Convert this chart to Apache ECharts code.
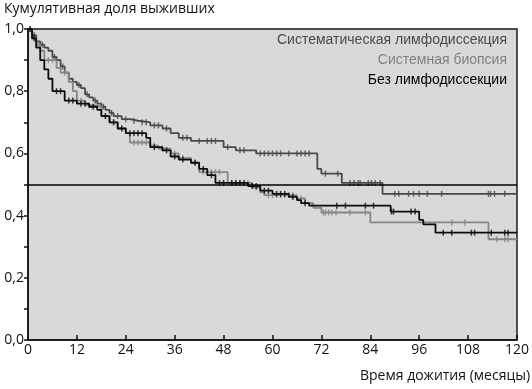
<!DOCTYPE html>
<html>
<head>
<meta charset="utf-8">
<script src="https://cdn.jsdelivr.net/npm/echarts@6/dist/echarts.min.js"></script>
<style>
  html, body { margin: 0; padding: 0; background: #fff; }
  #chart { width: 532px; height: 389px; }
</style>
</head>
<body>
<div id="chart"></div>
<script>
// series names (legend order)
var names = ['Систематическая лимфодиссекция', 'Системная биопсия', 'Без лимфодиссекции']

// Систематическая лимфодиссекция: event times (months) and survival after each step
var sysTimes = [0, 1, 2, 3, 4, 5, 6, 7, 8, 9, 10, 11, 12, 13, 14, 15, 16, 17, 18, 19, 20, 21, 23, 25, 27, 30, 33, 35, 37, 40, 48, 51, 56, 71, 72, 77, 87, 120]
var sysSurv = [1.0, 0.98, 0.96, 0.95, 0.94, 0.93, 0.91, 0.90, 0.88, 0.86, 0.84, 0.83, 0.82, 0.81, 0.79, 0.78, 0.77, 0.76, 0.75, 0.74, 0.73, 0.72, 0.71, 0.705, 0.70, 0.69, 0.68, 0.665, 0.65, 0.64, 0.62, 0.61, 0.60, 0.55, 0.535, 0.505, 0.47, 0.47]
var sysCensor = [1.5, 3.5, 6.5, 8.5, 12.5, 14.5, 16.5, 18.5, 20.5, 22, 24, 26, 28, 29, 31, 32, 34, 38, 39, 42, 44, 45, 46, 49, 52, 53, 57, 58, 59, 60, 61, 62, 64, 66, 67, 68, 69, 73, 76, 79, 80, 81, 81.5, 83.5, 84.3, 85.2, 86.4, 90, 91, 93.4, 94.6, 96, 98, 101.5, 113, 113.5, 114.5, 117]

// Системная биопсия
var bioTimes = [0, 1, 2, 3, 4, 7, 8, 10, 11, 12, 14, 16, 18, 20, 22, 24, 25, 30, 32, 35, 37, 40, 42, 49, 55, 57, 58, 66, 68, 70, 72, 84, 113, 120]
var bioSurv = [1.0, 0.97, 0.95, 0.93, 0.90, 0.875, 0.86, 0.83, 0.80, 0.77, 0.755, 0.75, 0.72, 0.70, 0.68, 0.665, 0.635, 0.625, 0.615, 0.60, 0.585, 0.57, 0.54, 0.505, 0.49, 0.475, 0.466, 0.455, 0.44, 0.425, 0.41, 0.378, 0.324, 0.324]
var bioCensor = [0.5, 2.5, 5, 6, 9, 13, 15, 17, 19, 21, 23, 26, 27, 28, 29, 31, 33, 36, 38, 41, 43, 45, 46, 47, 50, 51, 52, 54, 56, 59, 60, 61, 62, 63, 64, 65, 67, 72.5, 73, 73.8, 74.6, 75.6, 79, 82.8, 104, 107.2, 115, 117, 117.8]

// Без лимфодиссекции
var noTimes = [0, 1, 2, 3, 4, 5, 6, 9, 12, 15, 17, 18, 20, 22, 24, 29, 30, 33, 35, 37, 40, 42, 44, 46, 54, 57, 60, 64, 66, 67, 69, 89, 96, 97, 100, 120]
var noSurv = [1.0, 0.97, 0.94, 0.90, 0.87, 0.84, 0.80, 0.77, 0.76, 0.75, 0.74, 0.72, 0.70, 0.68, 0.665, 0.65, 0.62, 0.61, 0.59, 0.58, 0.57, 0.55, 0.53, 0.505, 0.495, 0.48, 0.47, 0.46, 0.45, 0.44, 0.432, 0.413, 0.386, 0.372, 0.345, 0.345]
var noCensor = [0.5, 1.5, 7, 8, 10, 11, 13, 14, 16, 19, 21, 23, 25, 26, 27, 28, 31, 34, 36, 38, 41, 43, 45, 47, 48, 50, 51, 52, 53, 55, 56, 58, 59, 61, 62, 63, 65, 68, 75.8, 77.9, 82.8, 84.8, 89.2, 89.7, 94, 95, 101.9, 104, 108.8, 109.6, 113.7, 117, 117.8]

var colors = ['#4a4a4a', '#858585', '#0c0c0c']
var textColors = ['#4a4a4a', '#808080', '#000000']

// x ticks / y ticks
var xMax = 120, xStep = 12
var yMax = 1, yStep = 0.2
var refLine = 0.5

function zip(ts, vs) {
  return ts.map(function (t, i) { return [t, vs[i]] })
}
// Kaplan-Meier value at time t (last step at or before t)
function kmAt(ts, vs, t) {
  var v = vs[0]
  for (var i = 0; i < ts.length; i++) {
    if (ts[i] <= t) v = vs[i]
  }
  return v
}
function censorPts(cs, ts, vs) {
  return cs.map(function (t) { return [t, kmAt(ts, vs, t)] })
}

var groups = [
  { times: sysTimes, surv: sysSurv, censor: sysCensor },
  { times: bioTimes, surv: bioSurv, censor: bioCensor },
  { times: noTimes, surv: noSurv, censor: noCensor }
]

var series = []
groups.forEach(function (g, i) {
  series.push({
    name: names[i],
    type: 'line',
    step: 'end',
    symbol: 'none',
    z: 3 + i,
    lineStyle: { color: colors[i], width: 1.8 },
    itemStyle: { color: colors[i] },
    data: zip(g.times, g.surv)
  })
  series.push({
    name: names[i] + ' (цензурированные)',
    type: 'scatter',
    symbol: 'rect',
    symbolSize: [1.5, 6],
    z: 3 + i,
    silent: true,
    itemStyle: { color: colors[i] },
    data: censorPts(g.censor, g.times, g.surv)
  })
})
series[0].markLine = {
  silent: true,
  symbol: 'none',
  label: { show: false },
  lineStyle: { color: '#000', type: 'solid', width: 1.5 },
  data: [{ yAxis: refLine }]
}

var chart = echarts.init(document.getElementById('chart'))
chart.setOption({
  animation: false,
  backgroundColor: '#fff',
  title: {
    text: 'Кумулятивная доля выживших',
    left: -1,
    top: -3,
    textStyle: { fontFamily: 'Open Sans', fontSize: 14, fontWeight: 'normal', color: '#111' }
  },
  legend: {
    orient: 'vertical',
    right: 20,
    top: 33,
    align: 'right',
    icon: 'none',
    itemWidth: 0,
    itemHeight: 14,
    itemGap: 6,
    padding: 0,
    selectedMode: false,
    textStyle: { fontFamily: 'Liberation Sans', fontSize: 14 },
    data: names.map(function (n, i) {
      return { name: n, textStyle: { color: textColors[i] } }
    })
  },
  grid: {
    left: 28,
    right: 13,
    top: 29,
    bottom: 49,
    show: true,
    backgroundColor: '#d9d9d9',
    borderColor: '#1a1a1a',
    borderWidth: 1.5
  },
  graphic: [{
    type: 'text',
    left: 360,
    top: 369,
    style: { text: 'Время дожития (месяцы)', font: '14px "Open Sans"', fill: '#111' }
  }],
  xAxis: {
    type: 'value',
    min: 0,
    max: xMax,
    interval: xStep,
    splitLine: { show: false },
    axisLine: { lineStyle: { color: '#111', width: 1.5 } },
    axisTick: { inside: true, length: 5, lineStyle: { color: '#111', width: 1.5 } },
    axisLabel: { fontFamily: 'Open Sans', fontSize: 14, color: '#111', margin: 3 }
  },
  yAxis: {
    type: 'value',
    min: 0,
    max: yMax,
    interval: yStep,
    splitLine: { show: false },
    axisLine: { lineStyle: { color: '#111', width: 1.5 } },
    axisTick: { length: 4, lineStyle: { color: '#111', width: 1.5 } },
    minorTick: { show: true, splitNumber: 2, length: 4, lineStyle: { color: '#111', width: 1.5 } },
    axisLabel: {
      fontFamily: 'Open Sans', fontSize: 14, color: '#111', margin: 4,
      formatter: function (v) { return v.toFixed(1).replace('.', ',') }
    }
  },
  series: series
})
</script>
</body>
</html>
